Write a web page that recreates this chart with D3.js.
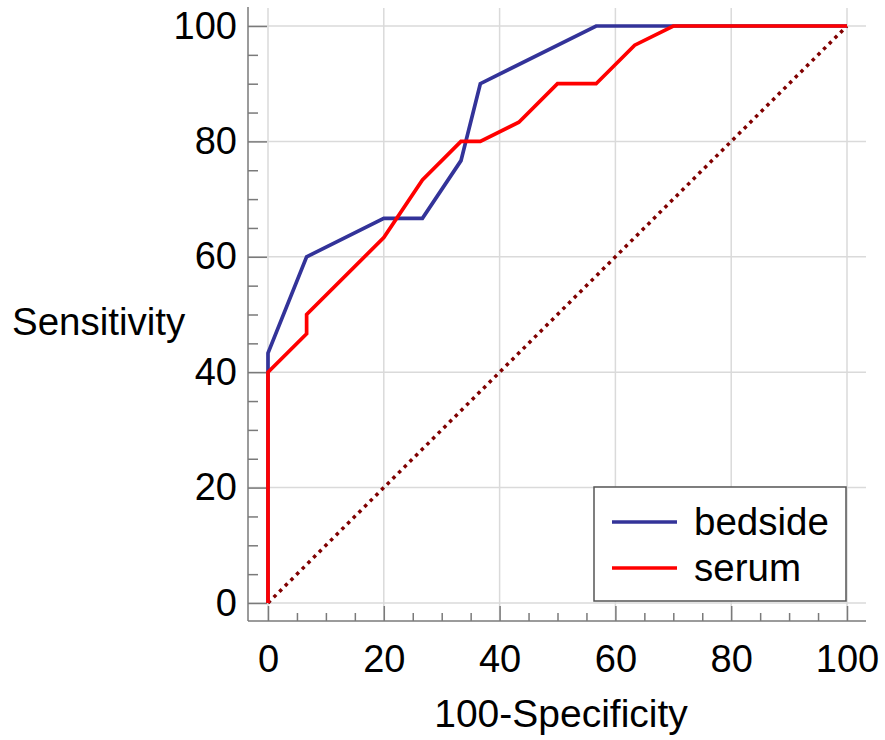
<!DOCTYPE html>
<html>
<head>
<meta charset="utf-8">
<script src="https://cdn.jsdelivr.net/npm/d3@7"></script>
<style>
  html, body { margin: 0; padding: 0; background: #fff; }
  svg { display: block; font-family: "Liberation Sans", Arial, sans-serif; }
</style>
</head>
<body>
<svg id="chart" width="885" height="740"></svg>
<script>
// ---- data ----
const seriesNames = ["bedside", "serum"];
const seriesColors = ["#333399", "#ff0000"];
const bedsideX = [0, 0, 6.67, 20, 26.67, 33.33, 36.67, 56.67, 100];
const bedsideY = [0, 43.33, 60, 66.67, 66.67, 76.67, 90, 100, 100];
const serumX = [0, 0, 6.67, 6.67, 20, 26.67, 33.33, 36.67, 43.33, 50, 56.67, 63.33, 70, 100];
const serumY = [0, 40, 46.67, 50, 63.33, 73.33, 80, 80, 83.33, 90, 90, 96.67, 100, 100];
const diagX = [0, 100];
const diagY = [0, 100];
const xTicks = [0, 20, 40, 60, 80, 100];
const yTicks = [0, 20, 40, 60, 80, 100];
const minorTicks = d3.range(0, 101, 5).filter(v => v % 20 !== 0);
const xTitle = "100-Specificity";
const yTitle = "Sensitivity";

// ---- layout ----
const svg = d3.select("#chart");
const x = d3.scaleLinear().domain([0, 100]).range([268, 847]);
const y = d3.scaleLinear().domain([0, 100]).range([603, 26]);
const box = { left: 248, right: 866, top: 8, bottom: 621 };
const fontSize = 38;
const axisColor = "#7a7a7a";
const gridColor = "#dadada";

// gridlines
svg.append("g").selectAll("line.vg").data(xTicks).join("line")
  .attr("x1", d => x(d)).attr("x2", d => x(d))
  .attr("y1", box.top).attr("y2", box.bottom)
  .attr("stroke", gridColor).attr("stroke-width", 1.5);
svg.append("g").selectAll("line.hg").data(yTicks).join("line")
  .attr("x1", box.left).attr("x2", box.right)
  .attr("y1", d => y(d)).attr("y2", d => y(d))
  .attr("stroke", gridColor).attr("stroke-width", 1.5);

// axes
function styleAxis(g) {
  g.select(".domain").remove();
  g.selectAll(".tick line").attr("stroke", axisColor).attr("stroke-width", 1.5);
  g.selectAll("text").attr("font-size", fontSize).attr("fill", "#000")
    .attr("font-family", "'Liberation Sans', Arial, sans-serif");
}
svg.append("g").attr("transform", `translate(${box.left},0)`)
  .call(d3.axisLeft(y).tickValues(yTicks).tickSize(-19).tickPadding(11))
  .call(styleAxis);
svg.append("g").attr("transform", `translate(${box.left},0)`)
  .call(d3.axisLeft(y).tickValues(minorTicks).tickSize(-10).tickFormat(""))
  .call(styleAxis);
svg.append("g").attr("transform", `translate(0,${box.bottom})`)
  .call(d3.axisBottom(x).tickValues(xTicks).tickSize(-15).tickPadding(24))
  .call(styleAxis);
svg.append("g").attr("transform", `translate(0,${box.bottom})`)
  .call(d3.axisBottom(x).tickValues(minorTicks).tickSize(-8).tickFormat(""))
  .call(styleAxis);

// axis lines
svg.append("line").attr("x1", box.left).attr("x2", box.left)
  .attr("y1", box.top - 1).attr("y2", box.bottom)
  .attr("stroke", axisColor).attr("stroke-width", 1.5);
svg.append("line").attr("x1", box.left).attr("x2", box.right)
  .attr("y1", box.bottom).attr("y2", box.bottom)
  .attr("stroke", axisColor).attr("stroke-width", 1.5);

// diagonal reference
const line = d3.line().x(d => x(d[0])).y(d => y(d[1]));
svg.append("path").datum(d3.zip(diagX, diagY)).attr("d", line)
  .attr("fill", "none").attr("stroke", "#800000")
  .attr("stroke-width", 3.5).attr("stroke-dasharray", "3.5 4.5");

// curves (serum drawn on top)
const series = [d3.zip(bedsideX, bedsideY), d3.zip(serumX, serumY)];
series.forEach((s, i) => {
  svg.append("path").datum(s).attr("d", line)
    .attr("fill", "none").attr("stroke", seriesColors[i])
    .attr("stroke-width", 3.7).attr("stroke-linejoin", "miter");
});

// titles
svg.append("text").attr("x", 12).attr("y", 335).text(yTitle)
  .attr("font-size", 38.5).attr("fill", "#000");
svg.append("text").attr("x", 561).attr("y", 727).attr("text-anchor", "middle")
  .text(xTitle).attr("font-size", 39).attr("fill", "#000");

// legend
const lg = svg.append("g");
lg.append("rect").attr("x", 594).attr("y", 487).attr("width", 252).attr("height", 114)
  .attr("fill", "#fff").attr("stroke", "#555").attr("stroke-width", 1.5);
seriesNames.forEach((name, i) => {
  const ly = 522 + i * 46;
  lg.append("line").attr("x1", 612).attr("x2", 677).attr("y1", ly).attr("y2", ly)
    .attr("stroke", seriesColors[i]).attr("stroke-width", 3.7);
  lg.append("text").attr("x", 694).attr("y", ly + 13).text(name)
    .attr("font-size", 38.5).attr("fill", "#000");
});
</script>
</body>
</html>
